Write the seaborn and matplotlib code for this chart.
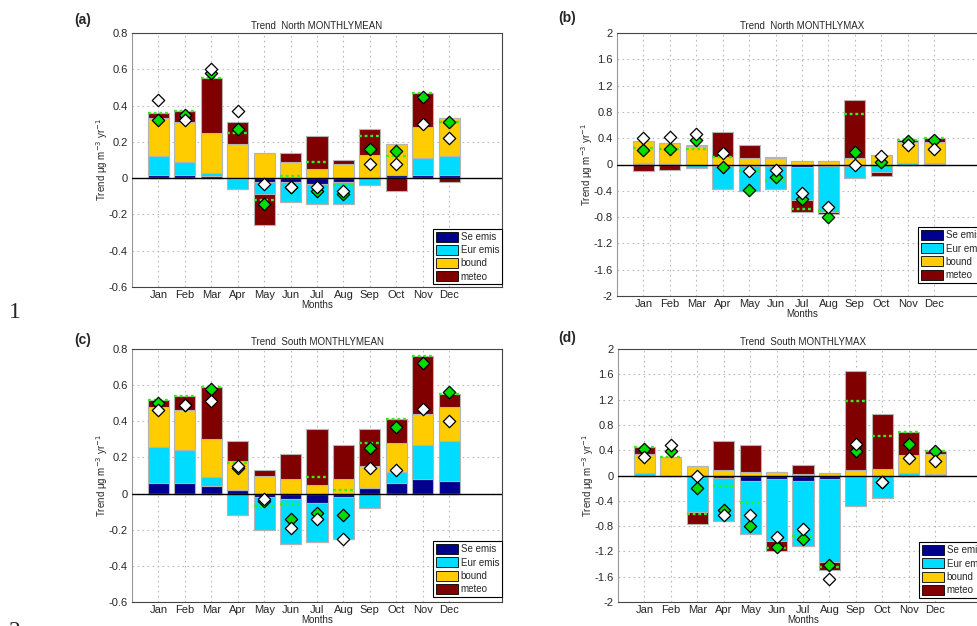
import numpy as np
import seaborn as sns
import matplotlib.pyplot as plt
from matplotlib.patches import Patch

# Data
months = ['Jan', 'Feb', 'Mar', 'Apr', 'May', 'Jun', 'Jul', 'Aug', 'Sep', 'Oct', 'Nov', 'Dec']
components = ['Se emis', 'Eur emis', 'bound', 'meteo']
colors = ['#00008f', '#00dcff', '#ffcc00', '#800000']

# (a) North, monthly mean
a_se = [0.02, 0.02, 0.01, -0.005, -0.02, -0.02, -0.03, -0.02, 0.0, 0.02, 0.02, 0.02]
a_eur = [0.10, 0.07, 0.02, -0.055, -0.07, -0.11, -0.11, -0.12, -0.04, 0.0, 0.09, 0.10]
a_bound = [0.21, 0.22, 0.22, 0.19, 0.14, 0.09, 0.05, 0.08, 0.13, 0.17, 0.17, 0.21]
a_meteo = [0.03, 0.06, 0.30, 0.12, -0.17, 0.05, 0.18, 0.02, 0.14, -0.07, 0.19, -0.02]
a_green = [0.32, 0.35, 0.58, 0.27, -0.14, -0.05, -0.07, -0.09, 0.16, 0.15, 0.45, 0.31]
a_white = [0.43, 0.32, 0.60, 0.37, -0.03, -0.05, -0.05, -0.07, 0.08, 0.08, 0.30, 0.22]

# (b) North, monthly max
b_se = [0.01, 0.0, 0.0, -0.02, -0.02, -0.03, -0.04, -0.02, -0.02, 0.0, 0.0, 0.01]
b_eur = [0.01, 0.01, -0.06, -0.35, -0.38, -0.34, -0.50, -0.70, -0.19, -0.12, 0.03, 0.02]
b_bound = [0.33, 0.32, 0.28, 0.12, 0.10, 0.10, 0.05, 0.05, 0.10, 0.15, 0.31, 0.31]
b_meteo = [-0.10, -0.09, 0.02, 0.37, 0.20, 0.02, -0.19, -0.04, 0.88, -0.05, 0.04, 0.06]
b_green = [0.22, 0.24, 0.37, -0.04, -0.39, -0.19, -0.53, -0.80, 0.19, 0.04, 0.36, 0.38]
b_white = [0.40, 0.42, 0.47, 0.18, -0.10, -0.08, -0.44, -0.64, 0.00, 0.13, 0.30, 0.24]

# (c) South, monthly mean
c_se = [0.06, 0.06, 0.04, 0.02, -0.02, -0.03, -0.05, -0.02, 0.03, 0.06, 0.08, 0.07]
c_eur = [0.20, 0.18, 0.05, -0.12, -0.18, -0.25, -0.22, -0.23, -0.08, 0.06, 0.19, 0.22]
c_bound = [0.22, 0.22, 0.21, 0.16, 0.10, 0.08, 0.05, 0.08, 0.12, 0.16, 0.17, 0.19]
c_meteo = [0.04, 0.08, 0.29, 0.11, 0.03, 0.14, 0.31, 0.19, 0.21, 0.13, 0.32, 0.07]
c_green = [0.50, 0.49, 0.58, 0.14, -0.04, -0.14, -0.11, -0.12, 0.25, 0.37, 0.72, 0.56]
c_white = [0.46, 0.49, 0.51, 0.15, -0.03, -0.19, -0.14, -0.25, 0.14, 0.13, 0.47, 0.40]

# (d) South, monthly max
d_se = [0.0, 0.0, 0.0, -0.04, -0.09, -0.05, -0.08, -0.06, -0.01, 0.0, 0.0, 0.0]
d_eur = [0.04, -0.01, -0.58, -0.68, -0.83, -0.98, -1.04, -1.30, -0.47, -0.35, 0.04, 0.02]
d_bound = [0.30, 0.30, 0.15, 0.08, 0.06, 0.05, 0.03, 0.04, 0.08, 0.11, 0.28, 0.32]
d_meteo = [0.11, 0.0, -0.18, 0.47, 0.42, -0.17, 0.14, -0.13, 1.57, 0.87, 0.36, 0.04]
d_green = [0.42, 0.38, -0.20, -0.55, -0.80, -1.13, -1.00, -1.42, 0.38, -0.10, 0.50, 0.39]
d_white = [0.30, 0.48, 0.00, -0.62, -0.63, -0.98, -0.84, -1.63, 0.50, -0.10, 0.28, 0.23]

mean_ticks = [-0.6, -0.4, -0.2, 0, 0.2, 0.4, 0.6, 0.8]
max_ticks = [-2, -1.6, -1.2, -0.8, -0.4, 0, 0.4, 0.8, 1.2, 1.6, 2]

sns.set_style('whitegrid')
plt.rcParams['font.family'] = ['Liberation Sans', 'DejaVu Sans']

W, H = 977, 626
fig = plt.figure(figsize=(W / 100, H / 100), dpi=100)


def draw_panel(rect, comps, green, white, title, ticks, letter, letter_xy, leg_y):
    ax = fig.add_axes([rect[0] / W, 1 - rect[2] / H, 370 / W, (rect[2] - rect[1]) / H])
    x = np.arange(1, 13)
    pos_bottom = np.zeros(12)
    neg_bottom = np.zeros(12)
    for vals, col in zip(comps, colors):
        v = np.array(vals)
        up = np.where(v > 0, v, 0)
        down = np.where(v < 0, v, 0)
        ax.bar(x, up, 0.8, bottom=pos_bottom, color=col, edgecolor='#b4b4b4', linewidth=0.8, zorder=2)
        ax.bar(x, down, 0.8, bottom=neg_bottom, color=col, edgecolor='#b4b4b4', linewidth=0.8, zorder=2)
        pos_bottom += up
        neg_bottom += down

    # total of the four contributions
    total = np.sum(np.array(comps), axis=0)
    ax.hlines(total, x - 0.4, x + 0.4, colors='#33ee22', linestyles=(0, (1.2, 1.2)), linewidth=1.7, zorder=3)
    ax.axhline(0, color='black', linewidth=1.0, zorder=3)

    sns.scatterplot(x=x, y=green, marker='D', s=40, color='#00dd00', edgecolor='black',
                    linewidth=0.9, zorder=5, ax=ax, legend=False)
    sns.scatterplot(x=x, y=white, marker='D', s=40, color='white', edgecolor='black',
                    linewidth=0.9, zorder=6, ax=ax, legend=False)

    ax.set_xlim(0, 14)
    ax.set_ylim(ticks[0], ticks[-1])
    ax.set_xticks(x)
    ax.set_xticklabels(months, fontsize=8)
    ax.set_yticks(ticks)
    ax.set_yticklabels([f'{t:g}' for t in ticks], fontsize=8)
    ax.tick_params(direction='in', length=3, width=0.6, color='#666666', pad=3)
    ax.tick_params(axis='x', pad=2)
    ax.grid(True, linestyle=(0, (1.5, 3)), color='#bbbbbb', linewidth=0.8)
    for s in ax.spines.values():
        s.set_color('#444444')
        s.set_linewidth(0.8)
    ax.spines['left'].set_color('#999999')
    ax.set_title(title, fontsize=7, pad=3)
    ax.set_xlabel('Months', fontsize=7, labelpad=0)
    ax.set_ylabel('Trend μg m$^{-3}$ yr$^{-1}$', fontsize=7, labelpad=-1)

    handles = [Patch(facecolor=c, edgecolor='black', linewidth=0.6) for c in colors]
    leg = ax.legend(handles, components, loc='lower right', bbox_to_anchor=(1.0, leg_y),
                    fontsize=7, frameon=True, fancybox=False, borderpad=0.3, labelspacing=0.3,
                    handlelength=2.2, handleheight=1.2, handletextpad=0.3, borderaxespad=0.0)
    leg.get_frame().set_edgecolor('black')
    leg.get_frame().set_linewidth(0.8)
    leg.get_frame().set_alpha(1)

    fig.text(letter_xy[0] / W, 1 - letter_xy[1] / H, letter, fontsize=10, weight='bold',
             ha='center', va='center')


draw_panel((132, 33, 287), [a_se, a_eur, a_bound, a_meteo], a_green, a_white,
           'Trend  North MONTHLYMEAN', mean_ticks, '(a)', (83, 20), 0.01)
draw_panel((617, 33, 296), [b_se, b_eur, b_bound, b_meteo], b_green, b_white,
           'Trend  North MONTHLYMAX', max_ticks, '(b)', (567, 18), 0.05)
draw_panel((132, 349, 602), [c_se, c_eur, c_bound, c_meteo], c_green, c_white,
           'Trend  South MONTHLYMEAN', mean_ticks, '(c)', (83, 340), 0.02)
draw_panel((618, 349, 602), [d_se, d_eur, d_bound, d_meteo], d_green, d_white,
           'Trend  South MONTHLYMAX', max_ticks, '(d)', (567, 338), 0.016)

fig.text(15 / W, 1 - 313 / H, '1', fontsize=17, family='Liberation Serif', ha='center', va='center')
fig.text(15 / W, 1 - 621 / H, '2', fontsize=17, family='Liberation Serif', ha='center', va='top')

fig.savefig('out.png', dpi=100)
